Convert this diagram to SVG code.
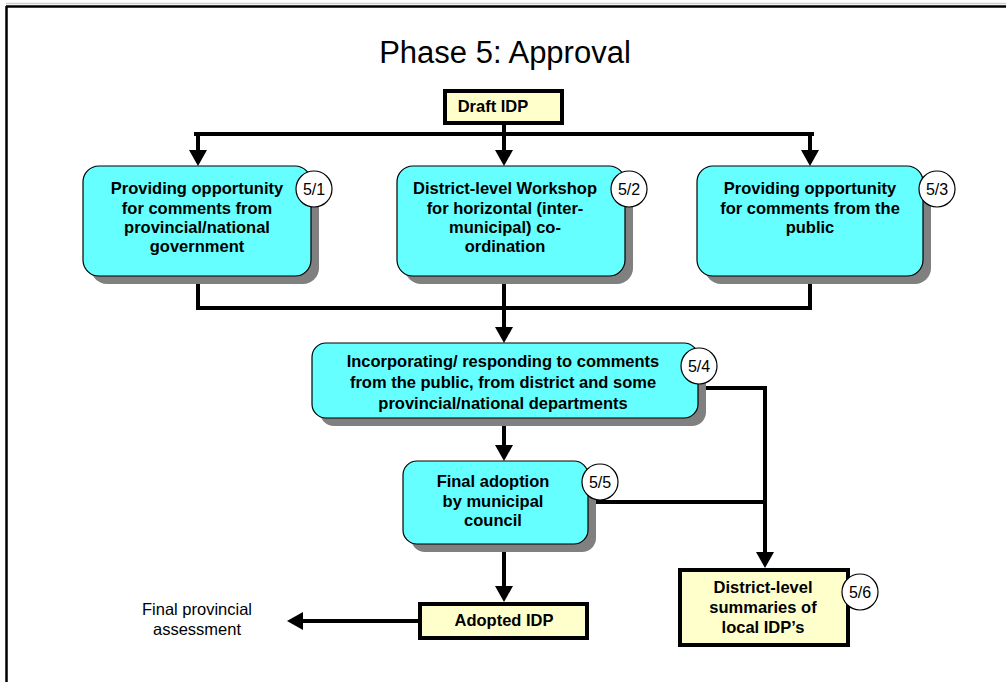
<svg xmlns="http://www.w3.org/2000/svg" width="1006" height="682" viewBox="0 0 1006 682">
  <defs>
    <marker id="arrow" markerUnits="userSpaceOnUse" markerWidth="16" markerHeight="18" viewBox="0 0 16 18" refX="12" refY="9" orient="auto">
      <path d="M0,0 L16,9 L0,18 z" fill="#000"/>
    </marker>
  </defs>
  <style>
    text { font-family: "Liberation Sans", Arial, sans-serif; fill: #000; }
    .title { font-size: 31px; text-anchor: middle; }
    .lbl { font-size: 16.5px; font-weight: bold; text-anchor: middle; }
    .num { font-size: 16px; text-anchor: middle; }
    .plain { font-size: 16.5px; text-anchor: middle; }
    .proc { fill: #66FFFF; stroke: #000; stroke-width: 1.2; }
    .shadow { fill: #808080; }
    .doc { fill: #FFFFCC; stroke: #000; stroke-width: 4; }
    .badge { fill: #fff; stroke: #000; stroke-width: 1.2; }
    .conn { fill: none; stroke: #000; stroke-width: 4; }
    .frame { stroke: #000; stroke-width: 2.5; }
  </style>

  <rect width="1006" height="682" fill="#fff"/>

  <!-- page frame -->
  <line x1="6" y1="3.5" x2="1006" y2="3.5" stroke="#d0d0d0" stroke-width="1.5"/>
  <line class="frame" x1="6" y1="6.5" x2="1006" y2="6.5"/>
  <line class="frame" x1="6.5" y1="6" x2="6.5" y2="682"/>

  <text class="title" x="505" y="63">Phase 5: Approval</text>

  <!-- connectors -->
  <g id="connectors">
    <line class="conn" x1="504" y1="125" x2="504" y2="134"/>
    <polyline class="conn" points="196,134 812,134" stroke-linecap="square"/>
    <line class="conn" x1="198" y1="134" x2="198" y2="162" marker-end="url(#arrow)"/>
    <line class="conn" x1="504" y1="134" x2="504" y2="162" marker-end="url(#arrow)"/>
    <line class="conn" x1="810" y1="134" x2="810" y2="162" marker-end="url(#arrow)"/>

    <polyline class="conn" points="198,276 198,308 810,308 810,276"/>
    <line class="conn" x1="504" y1="276" x2="504" y2="339" marker-end="url(#arrow)"/>

    <polyline class="conn" points="698,388 765,388 765,564" marker-end="url(#arrow)"/>
    <line class="conn" x1="588" y1="502" x2="767" y2="502"/>

    <line class="conn" x1="504" y1="418" x2="504" y2="457" marker-end="url(#arrow)"/>
    <line class="conn" x1="504" y1="544" x2="504" y2="598" marker-end="url(#arrow)"/>
    <line class="conn" x1="418" y1="621" x2="291" y2="621" marker-end="url(#arrow)"/>
  </g>

  <!-- Draft IDP -->
  <g id="draft-idp">
    <rect class="doc" x="445" y="91" width="117" height="32"/>
    <text class="lbl" x="493" y="112">Draft IDP</text>
  </g>

  <!-- 5/1 -->
  <g id="step-5-1">
    <rect class="shadow" x="91" y="174" width="228" height="110" rx="16"/>
    <rect class="proc" x="83" y="166" width="228" height="110" rx="16"/>
    <text class="lbl" x="197" y="194">Providing opportunity</text>
    <text class="lbl" x="197" y="214">for comments from</text>
    <text class="lbl" x="197" y="233">provincial/national</text>
    <text class="lbl" x="197" y="252">government</text>
    <circle class="badge" cx="314" cy="189" r="18"/>
    <text class="num" x="314" y="195">5/1</text>
  </g>

  <!-- 5/2 -->
  <g id="step-5-2">
    <rect class="shadow" x="405" y="174" width="228" height="110" rx="16"/>
    <rect class="proc" x="397" y="166" width="228" height="110" rx="16"/>
    <text class="lbl" x="505" y="194">District-level Workshop</text>
    <text class="lbl" x="505" y="214">for horizontal (inter-</text>
    <text class="lbl" x="505" y="233">municipal) co-</text>
    <text class="lbl" x="505" y="252">ordination</text>
    <circle class="badge" cx="629" cy="189" r="18"/>
    <text class="num" x="629" y="195">5/2</text>
  </g>

  <!-- 5/3 -->
  <g id="step-5-3">
    <rect class="shadow" x="705" y="174" width="226" height="110" rx="16"/>
    <rect class="proc" x="697" y="166" width="226" height="110" rx="16"/>
    <text class="lbl" x="810" y="194">Providing opportunity</text>
    <text class="lbl" x="810" y="214">for comments from the</text>
    <text class="lbl" x="810" y="233">public</text>
    <circle class="badge" cx="937" cy="189" r="18"/>
    <text class="num" x="937" y="195">5/3</text>
  </g>

  <!-- 5/4 -->
  <g id="step-5-4">
    <rect class="shadow" x="320" y="351" width="386" height="75" rx="14"/>
    <rect class="proc" x="312" y="343" width="386" height="75" rx="14"/>
    <text class="lbl" x="503" y="367">Incorporating/ responding to comments</text>
    <text class="lbl" x="503" y="388">from the public, from district and some</text>
    <text class="lbl" x="503" y="409">provincial/national departments</text>
    <circle class="badge" cx="699" cy="366" r="18"/>
    <text class="num" x="699" y="372">5/4</text>
  </g>

  <!-- 5/5 -->
  <g id="step-5-5">
    <rect class="shadow" x="411" y="469" width="185" height="83" rx="14"/>
    <rect class="proc" x="403" y="461" width="185" height="83" rx="14"/>
    <text class="lbl" x="493" y="487">Final adoption</text>
    <text class="lbl" x="493" y="507">by municipal</text>
    <text class="lbl" x="493" y="526">council</text>
    <circle class="badge" cx="600" cy="482" r="18"/>
    <text class="num" x="600" y="488">5/5</text>
  </g>

  <!-- Adopted IDP -->
  <g id="adopted-idp">
    <rect class="doc" x="420" y="604" width="167" height="34"/>
    <text class="lbl" x="504" y="626">Adopted IDP</text>
  </g>

  <!-- 5/6 -->
  <g id="step-5-6">
    <rect class="doc" x="680" y="570" width="168" height="75"/>
    <text class="lbl" x="763" y="593">District-level</text>
    <text class="lbl" x="763" y="613">summaries of</text>
    <text class="lbl" x="763" y="633">local IDP’s</text>
    <circle class="badge" cx="860" cy="592" r="18"/>
    <text class="num" x="860" y="598">5/6</text>
  </g>

  <!-- external destination -->
  <g id="provincial-assessment">
    <text class="plain" x="197" y="615">Final provincial</text>
    <text class="plain" x="197" y="635">assessment</text>
  </g>
</svg>
